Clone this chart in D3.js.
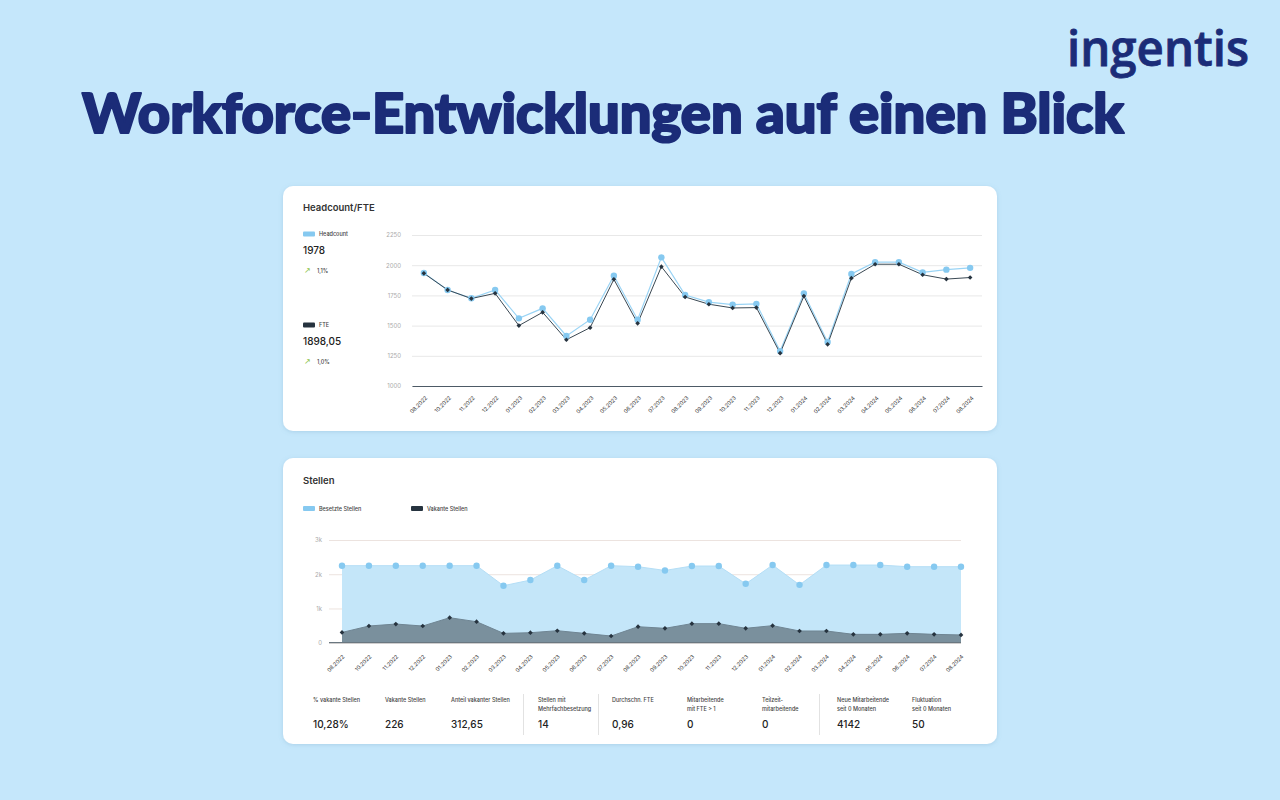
<!DOCTYPE html>
<html>
<head>
<meta charset="utf-8">
<script src="https://cdn.jsdelivr.net/npm/d3@7"></script>
<style>
  body { margin: 0; background: #c5e7fb; }
  svg { display: block; font-family: Inter, "Noto Sans", sans-serif; }
</style>
</head>
<body>
<svg id="chart" width="1280" height="800"></svg>
<script>
/* global d3 */

// months on both charts (09.2022 is missing in the source)
const months = ['08.2022', '10.2022', '11.2022', '12.2022', '01.2023', '02.2023', '03.2023', '04.2023',
  '05.2023', '06.2023', '07.2023', '08.2023', '09.2023', '10.2023', '11.2023', '12.2023',
  '01.2024', '02.2024', '03.2024', '04.2024', '05.2024', '06.2024', '07.2024', '08.2024'];

const headcount = [1935, 1795, 1726, 1795, 1560, 1643, 1414, 1549, 1913, 1549, 2065, 1753,
  1694, 1674, 1680, 1289, 1767, 1365, 1927, 2025, 2025, 1941, 1963, 1978];
const fte = [1933, 1795, 1724, 1767, 1500, 1610, 1383, 1483, 1883, 1519, 1988, 1737,
  1677, 1646, 1649, 1272, 1744, 1345, 1893, 2008, 2008, 1921, 1885, 1898];

const besetzt = [2250, 2250, 2250, 2250, 2250, 2250, 1665, 1830, 2250, 1830, 2250, 2220,
  2110, 2240, 2240, 1720, 2268, 1690, 2268, 2268, 2268, 2220, 2220, 2220];
const vakant = [300, 487, 545, 487, 730, 613, 273, 292, 350, 273, 195, 467,
  420, 557, 557, 420, 498, 342, 342, 244, 244, 274, 244, 226];

const topTicks = [1000, 1250, 1500, 1750, 2000, 2250];
const bottomTicks = [0, 1000, 2000, 3000];
const bottomTickLabels = ['0', '1k', '2k', '3k'];

const kpiLabels = [['% vakante Stellen'], ['Vakante Stellen'], ['Anteil vakanter Stellen'],
  ['Stellen mit', 'Mehrfachbesetzung'], ['Durchschn. FTE'], ['Mitarbeitende', 'mit FTE > 1'],
  ['Teilzeit-', 'mitarbeitende'], ['Neue Mitarbeitende', 'seit 0 Monaten'], ['Fluktuation', 'seit 0 Monaten']];
const kpiValues = ['10,28%', '226', '312,65', '14', '0,96', '0', '0', '4142', '50'];

const navy = '#1b2c78';
const light = '#86c9f0';
const dark = '#26333f';

const svg = d3.select('#chart');

// shadow for the cards
svg.append('defs').append('filter').attr('id', 'shadow')
  .attr('x', '-5%').attr('y', '-5%').attr('width', '110%').attr('height', '115%')
  .append('feDropShadow')
  .attr('dx', 0).attr('dy', 1).attr('stdDeviation', 2)
  .attr('flood-color', '#5b8fb3').attr('flood-opacity', 0.25);

// logo
svg.append('text')
  .attr('x', 1067).attr('y', 66)
  .attr('font-family', '"Open Sans", sans-serif')
  .attr('font-weight', 600)
  .attr('font-size', 48)
  .attr('textLength', 182)
  .attr('lengthAdjust', 'spacingAndGlyphs')
  .attr('fill', navy)
  .attr('stroke', navy).attr('stroke-width', 0.8)
  .text('ingentis');

// headline, sized to the width of the original
const title = svg.append('text')
  .attr('x', 82).attr('y', 133)
  .attr('font-family', 'Lato, sans-serif')
  .attr('font-weight', 900)
  .attr('font-size', 56)
  .attr('fill', navy)
  .attr('stroke', navy).attr('stroke-width', 2.2).attr('stroke-linejoin', 'round')
  .text('Workforce-Entwicklungen auf einen Blick');
const tw = title.node().getComputedTextLength();
title.attr('font-size', 56 * 1042 / tw);

// cards
function card(x, y, w, h) {
  svg.append('rect')
    .attr('x', x).attr('y', y).attr('width', w).attr('height', h)
    .attr('rx', 10).attr('fill', '#fff')
    .attr('filter', 'url(#shadow)');
}
card(283, 186, 714, 245);
card(283, 458, 714, 286);

// ---------- Headcount/FTE ----------
svg.append('text').attr('x', 303).attr('y', 211)
  .attr('font-size', 9.5).attr('font-weight', 600).attr('fill', '#333')
  .text('Headcount/FTE');

function sideLegend(y, color, name, value, change) {
  svg.append('rect').attr('x', 303).attr('y', y - 2.5).attr('width', 12).attr('height', 5)
    .attr('rx', 1).attr('fill', color);
  svg.append('text').attr('x', 319).attr('y', y + 2).attr('font-size', 5.5)
    .attr('font-weight', 500).attr('fill', '#444').text(name);
  svg.append('text').attr('x', 303).attr('y', y + 20).attr('font-size', 10)
    .attr('font-weight', 500).attr('fill', '#222').text(value);
  svg.append('text').attr('x', 304).attr('y', y + 39).attr('font-size', 8)
    .attr('font-family', '"DejaVu Sans", sans-serif').attr('fill', '#8bc34a').text('\u2197');
  svg.append('text').attr('x', 317).attr('y', y + 39).attr('font-size', 5.5)
    .attr('font-weight', 500).attr('fill', '#444').text(change);
}
sideLegend(234, light, 'Headcount', '1978', '1,1%');
sideLegend(325, dark, 'FTE', '1898,05', '1,0%');

const xTop = d3.scalePoint().domain(months).range([412, 982]).padding(0.5);
const yTop = d3.scaleLinear().domain([1000, 2250]).range([386, 235]);

const gTopY = svg.append('g').attr('transform', 'translate(412,0)')
  .call(d3.axisLeft(yTop).tickValues(topTicks).tickFormat(d3.format('d'))
    .tickSize(-570).tickPadding(11));
gTopY.select('.domain').remove();
gTopY.selectAll('line').attr('stroke', '#e8e8e8');
gTopY.selectAll('text').attr('font-size', 6).attr('fill', '#aaa').attr('font-family', 'Inter, sans-serif');

const gTopX = svg.append('g').attr('transform', 'translate(0,386)')
  .call(d3.axisBottom(xTop).tickSize(0));
gTopX.select('.domain').attr('stroke', '#4d5a66');
gTopX.selectAll('text')
  .attr('x', 0).attr('y', 0).attr('dy', '0.35em')
  .attr('transform', 'translate(2,11) rotate(-45)')
  .style('text-anchor', 'end')
  .attr('font-size', 5.5).attr('fill', '#333').attr('font-family', 'Inter, sans-serif');

const hcLine = d3.line().x((d, i) => xTop(months[i])).y(d => yTop(d));
svg.append('path').datum(headcount).attr('d', hcLine)
  .attr('fill', 'none').attr('stroke', '#9ad4f5').attr('stroke-width', 1.2);
svg.append('path').datum(fte).attr('d', hcLine)
  .attr('fill', 'none').attr('stroke', '#3a4853').attr('stroke-width', 1);

svg.append('g').selectAll('circle').data(headcount).enter().append('circle')
  .attr('cx', (d, i) => xTop(months[i])).attr('cy', d => yTop(d))
  .attr('r', 3.2).attr('fill', light);

const diamond = d3.symbol().type(d3.symbolDiamond2).size(14);
svg.append('g').selectAll('path').data(fte).enter().append('path')
  .attr('d', diamond)
  .attr('transform', (d, i) => `translate(${xTop(months[i])},${yTop(d)})`)
  .attr('fill', dark);

// ---------- Stellen ----------
svg.append('text').attr('x', 303).attr('y', 484)
  .attr('font-size', 9.5).attr('font-weight', 600).attr('fill', '#333')
  .text('Stellen');

function topLegend(x, color, name) {
  svg.append('rect').attr('x', x).attr('y', 506).attr('width', 12).attr('height', 5)
    .attr('rx', 1).attr('fill', color);
  svg.append('text').attr('x', x + 16).attr('y', 510.5).attr('font-size', 5.5)
    .attr('font-weight', 500).attr('fill', '#444').text(name);
}
topLegend(303, light, 'Besetzte Stellen');
topLegend(411, dark, 'Vakante Stellen');

const xBot = d3.scalePoint().domain(months).range([342, 961]);
const yBot = d3.scaleLinear().domain([0, 3000]).range([642.7, 540]);

const gBotY = svg.append('g').attr('transform', 'translate(329,0)')
  .call(d3.axisLeft(yBot).tickValues(bottomTicks).tickFormat((d, i) => bottomTickLabels[i])
    .tickSize(-632).tickPadding(7));
gBotY.select('.domain').remove();
gBotY.selectAll('line').attr('stroke', '#ece3df');
gBotY.selectAll('text').attr('font-size', 6).attr('fill', '#aaa').attr('font-family', 'Inter, sans-serif');

const area = d3.area().x((d, i) => xBot(months[i])).y0(yBot(0)).y1(d => yBot(d));
const edge = d3.line().x((d, i) => xBot(months[i])).y(d => yBot(d));

svg.append('path').datum(besetzt).attr('d', area).attr('fill', '#c4e6f9');
svg.append('path').datum(besetzt).attr('d', edge).attr('fill', 'none')
  .attr('stroke', '#b4def6').attr('stroke-width', 1);
svg.append('path').datum(vakant).attr('d', area).attr('fill', '#7a909d');
svg.append('path').datum(vakant).attr('d', edge).attr('fill', 'none')
  .attr('stroke', '#6f8593').attr('stroke-width', 1);

svg.append('line').attr('x1', 329).attr('x2', 961)
  .attr('y1', yBot(0)).attr('y2', yBot(0))
  .attr('stroke', '#6a7780').attr('stroke-width', 1.2);

svg.append('g').selectAll('circle').data(besetzt).enter().append('circle')
  .attr('cx', (d, i) => xBot(months[i])).attr('cy', d => yBot(d))
  .attr('r', 3.2).attr('fill', light);
svg.append('g').selectAll('path').data(vakant).enter().append('path')
  .attr('d', diamond)
  .attr('transform', (d, i) => `translate(${xBot(months[i])},${yBot(d)})`)
  .attr('fill', dark);

const gBotX = svg.append('g').attr('transform', `translate(0,${yBot(0)})`)
  .call(d3.axisBottom(xBot).tickSize(0));
gBotX.select('.domain').remove();
gBotX.selectAll('text')
  .attr('x', 0).attr('y', 0).attr('dy', '0.35em')
  .attr('transform', 'translate(1,13) rotate(-45)')
  .style('text-anchor', 'end')
  .attr('font-size', 5.5).attr('fill', '#333').attr('font-family', 'Inter, sans-serif');

// KPI row
const kpiX = [313, 385, 451, 538, 612, 687, 762, 837, 912];
kpiLabels.forEach((lines, i) => {
  lines.forEach((l, j) => {
    svg.append('text').attr('x', kpiX[i]).attr('y', 702 + j * 8.5)
      .attr('font-size', 5.5).attr('font-weight', 500).attr('fill', '#444').text(l);
  });
  svg.append('text').attr('x', kpiX[i]).attr('y', 728)
    .attr('font-size', 10).attr('font-weight', 500).attr('fill', '#222').text(kpiValues[i]);
});
[523.5, 598.5, 819.5].forEach(x => {
  svg.append('line').attr('x1', x).attr('x2', x).attr('y1', 694).attr('y2', 735)
    .attr('stroke', '#e2e2e2').attr('stroke-width', 1);
});
</script>
</body>
</html>
